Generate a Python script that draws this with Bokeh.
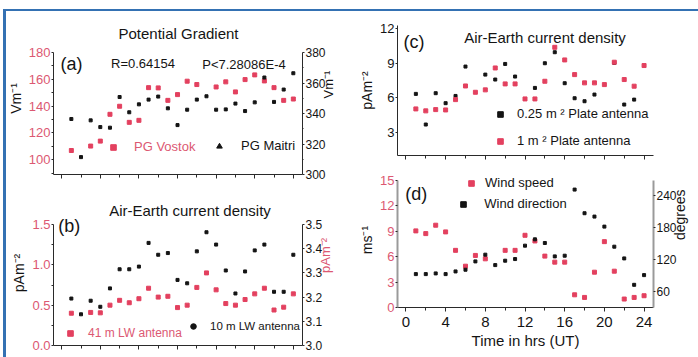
import math

from bokeh.embed import file_html
from bokeh.layouts import column, row
from bokeh.models import (FixedTicker, Label, Legend, LegendItem, LinearAxis,
                          NumeralTickFormatter, Range1d)
from bokeh.plotting import figure
from bokeh.resources import INLINE

FONT = "Liberation Sans"
RED = "#e3405f"
RED_TEXT = "#dc5872"
INK = "#141414"
AXIS = "#2a2a2a"
FRAME_BLUE = "#3471b3"

# ---------------------------------------------------------------- data
# (a) potential gradient, V/m
pg_vostok_hours = [1, 3, 4, 5, 6, 7, 8, 9, 10, 11, 12, 13, 14, 16, 17, 18, 19, 20, 21, 22, 23, 24]
pg_vostok = [106.9, 110.2, 113.9, 133.9, 139.9, 127.9, 129.4, 153.8, 153.6, 144.3, 148.6,
             158.6, 156.1, 154.3, 158.1, 150.6, 159.8, 163.3, 158.8, 153.8, 144.3, 145.3]
pg_maitri_hours = [1, 2, 3, 4, 5, 6, 7, 8, 9, 10, 11, 12, 13, 14, 15, 16, 17, 18, 19, 20, 21, 22, 23, 24]
pg_maitri = [336.4, 311.4, 335.5, 331.1, 330.7, 350.8, 340.8, 346.0, 349.1, 351.1, 343.4, 332.4,
             342.5, 349.1, 351.3, 342.5, 342.7, 346.5, 341.6, 347.3, 363.6, 347.6, 355.7, 366.4]

# (b) air-earth current density from the long-wire antennas, pA/m^2
lw41_hours = [1, 3, 4, 5, 6, 7, 8, 9, 10, 11, 12, 13, 14, 15, 16, 17, 18, 19, 20, 21, 22, 23, 24]
lw41 = [0.40, 0.41, 0.405, 0.50, 0.56, 0.53, 0.58, 0.71, 0.60, 0.61, 0.47, 0.50,
        0.72, 0.90, 0.69, 0.52, 0.50, 0.57, 0.64, 0.71, 0.44, 0.475, 0.64]
lw10_hours = [1, 2, 3, 4, 5, 6, 7, 8, 9, 10, 11, 12, 13, 14, 15, 16, 17, 18, 19, 20, 21, 22, 23, 24]
lw10 = [3.194, 3.129, 3.185, 3.160, 3.236, 3.315, 3.315, 3.326, 3.424, 3.375, 3.382, 3.271,
        3.257, 3.389, 3.468, 3.417, 3.310, 3.215, 3.306, 3.393, 3.417, 3.222, 3.222, 3.375]

# (c) air-earth current density from the plate antennas, pA/m^2
plate025_hours = [1, 2, 3, 4, 5, 6, 8, 9, 10, 11, 13, 14, 15, 16, 17, 18, 19, 21, 22, 23]
plate025 = [6.34, 3.67, 6.40, 5.53, 6.16, 8.72, 8.02, 7.59, 8.95, 7.85,
            6.86, 9.01, 9.97, 7.27, 5.96, 5.70, 6.28, 9.04, 5.41, 5.84]
plate1_hours = [1, 2, 3, 4, 5, 6, 7, 8, 9, 10, 11, 12, 13, 14, 15, 16, 17, 18, 19, 20, 21, 22, 23, 24]
plate1 = [5.03, 4.86, 4.97, 4.94, 5.84, 7.03, 6.48, 6.69, 8.60, 7.21, 7.21, 5.90,
          5.90, 7.44, 10.40, 9.30, 8.02, 7.30, 7.30, 7.15, 9.10, 7.59, 7.01, 8.81]

# (d) wind
wind_speed_hours = [1, 2, 3, 4, 5, 6, 7, 8, 10, 11, 12, 13, 14, 15, 16, 17, 18, 19, 20, 21, 22, 23, 24]
wind_speed = [9.05, 8.73, 9.72, 8.93, 6.75, 4.88, 6.15, 5.75, 6.75, 6.75, 8.53, 7.86,
              6.07, 5.36, 5.36, 1.50, 1.19, 4.17, 7.78, 4.29, 1.00, 1.19, 1.39]
wind_dir_hours = [1, 2, 3, 4, 5, 6, 7, 8, 9, 10, 11, 12, 13, 14, 15, 16, 17, 18, 19, 20, 21, 22, 23, 24]
wind_dir = [92.6, 92.6, 93.9, 92.6, 97.6, 100.8, 116.4, 129.0, 109.5, 117.7, 120.8, 145.9,
            157.8, 150.9, 125.8, 127.1, 251.0, 206.7, 200.4, 181.6, 144.0, 122.0, 72.5, 90.7]

hour_ticks = [0, 4, 8, 12, 16, 20, 24]
hour_minor = [2, 6, 10, 14, 18, 22]
X_SPAN = (-0.85, 24.95)


# ---------------------------------------------------------------- helpers
def headroom(lo, hi, axis_px, pad_px):
    """Upper range limit that leaves pad_px of empty frame above the axis end."""
    return hi + (hi - lo) * pad_px / axis_px


def style_axis(ax, tick_color=INK, title_color=INK, tick_size="13px", title_size="14px"):
    ax.axis_line_color = AXIS
    ax.major_tick_line_color = AXIS
    ax.minor_tick_line_color = AXIS
    ax.major_tick_in = 0
    ax.major_tick_out = 2
    ax.minor_tick_in = 0
    ax.minor_tick_out = 2
    ax.major_label_text_font = FONT
    ax.major_label_text_font_size = tick_size
    ax.major_label_text_color = tick_color
    ax.major_label_standoff = 1
    ax.axis_label_text_font = FONT
    ax.axis_label_text_font_size = title_size
    ax.axis_label_text_font_style = "normal"
    ax.axis_label_text_color = title_color
    ax.axis_label_standoff = 2


def make_panel(w, h, y_lo, y_hi, left, right, top, bottom, show_hours=False):
    p = figure(width=w, height=h, x_range=Range1d(*X_SPAN), y_range=Range1d(y_lo, y_hi),
               output_backend="svg", toolbar_location=None,
               min_border_left=left, min_border_right=right,
               min_border_top=top, min_border_bottom=bottom)
    p.outline_line_color = None
    p.xgrid.visible = False
    p.ygrid.visible = False
    p.background_fill_color = "white"
    p.border_fill_color = None
    xa = p.xaxis[0]
    xa.ticker = FixedTicker(ticks=hour_ticks, minor_ticks=hour_minor)
    style_axis(xa, tick_size="15px")
    xa.major_tick_out = 4
    xa.minor_tick_out = 3
    if not show_hours:
        # tick marks only, the hour numbers are printed under panel (d)
        xa.major_label_text_font_size = "1px"
        xa.major_label_text_color = None
        xa.major_label_standoff = 0
    return p


def add_right_axis(p, name, lo, hi, top, ticks, minor, title, tick_color=INK, title_color=INK,
                   title_size="13px"):
    p.extra_y_ranges[name] = Range1d(lo, top)
    ax = LinearAxis(y_range_name=name, ticker=FixedTicker(ticks=ticks, minor_ticks=minor),
                    axis_label=title, bounds=(lo, hi))
    style_axis(ax, tick_color=tick_color, title_color=title_color, tick_size="12px",
               title_size=title_size)
    ax.major_tick_out = 2
    ax.minor_tick_out = 1
    ax.major_label_standoff = 1
    ax.axis_label_standoff = 0
    if "axis_label_orientation" in ax.properties():
        ax.axis_label_orientation = math.pi / 2
    p.add_layout(ax, "right")
    return ax


def legend_style(font_size="13px", text_color=INK, spacing=0, standoff=10):
    return dict(glyph_width=14, glyph_height=14, label_height=14, label_width=10,
                padding=0, margin=0, spacing=spacing, label_standoff=standoff,
                border_line_color=None, background_fill_alpha=0,
                label_text_font=FONT, label_text_font_size=font_size,
                label_text_color=text_color)


def key_glyph(p, xs, ys, marker, size, color, **kw):
    # larger copy of a series used only for its legend swatch
    return p.scatter(xs, ys, marker=marker, size=size, color=color, visible=False, **kw)


def add_key(p, text, proxy, text_color, loc, standoff, font_size="13px"):
    leg = Legend(items=[LegendItem(label=text, renderers=[proxy])], location=loc,
                 **legend_style(font_size, text_color, 0, standoff))
    p.add_layout(leg)
    return leg


def add_text(p, text, sx, sy, size="13px", color=INK):
    p.add_layout(Label(x=sx, y=sy, x_units="screen", y_units="screen", text=text,
                       text_align="center", text_baseline="middle",
                       text_font=FONT, text_font_size=size, text_color=color))


# ---------------------------------------------------------------- (a)
pa = make_panel(350, 195, 89, headroom(89, 180, 122, 30), left=53, right=48, top=22, bottom=21)
ya = pa.yaxis[0]
ya.ticker = FixedTicker(ticks=[100, 120, 140, 160, 180], minor_ticks=[90, 110, 130, 150, 170])
ya.bounds = (89, 180)
style_axis(ya, tick_color=RED_TEXT)
ya.axis_label = "Vm⁻¹"
add_right_axis(pa, "maitri", 300, 380, headroom(300, 380, 122, 30),
               [300, 320, 340, 360, 380], [310, 330, 350, 370], "Vm⁻¹")
pa.scatter(pg_vostok_hours, pg_vostok, marker="square", size=4, color=RED)
pa.scatter(pg_maitri_hours, pg_maitri, marker="square", size=3, color=INK, y_range_name="maitri")
add_key(pa, "PG Vostok", key_glyph(pa, pg_vostok_hours, pg_vostok, "square", 7, RED),
        RED_TEXT, (53, 20), 14)
add_key(pa, "PG Maitri", key_glyph(pa, pg_maitri_hours, pg_maitri, "triangle", 9, INK,
                                   y_range_name="maitri"),
        INK, (159, 21), 15)
add_text(pa, "Potential Gradient", 125, 141, size="15px")
add_text(pa, "(a)", 18, 110.5, size="18px")
add_text(pa, "R=0.64154", 89.5, 111)
add_text(pa, "P<7.28086E-4", 190.5, 110.5)

# ---------------------------------------------------------------- (b)
pb = make_panel(350, 162, 0, headroom(0, 1.5, 121, 24), left=53, right=48, top=5, bottom=12)
yb = pb.yaxis[0]
yb.ticker = FixedTicker(ticks=[0, 0.5, 1.0, 1.5], minor_ticks=[0.25, 0.75, 1.25])
yb.formatter = NumeralTickFormatter(format="0.0")
yb.bounds = (0, 1.5)
style_axis(yb, tick_color=RED_TEXT)
yb.axis_label = "pAm⁻²"
rb = add_right_axis(pb, "lw10", 3.0, 3.5, headroom(3.0, 3.5, 121, 24),
                    [3.0, 3.1, 3.2, 3.3, 3.4, 3.5], [], "pAm⁻²", title_color=RED_TEXT)
rb.formatter = NumeralTickFormatter(format="0.0")
pb.scatter(lw41_hours, lw41, marker="square", size=4, color=RED)
pb.scatter(lw10_hours, lw10, marker="square", size=3, color=INK, y_range_name="lw10")
add_key(pb, "41 m LW antenna", key_glyph(pb, lw41_hours, lw41, "square", 5, RED),
        RED_TEXT, (10, 5), 11, font_size="12px")
add_key(pb, "10 m LW antenna", key_glyph(pb, lw10_hours, lw10, "circle", 6, INK,
                                         y_range_name="lw10"),
        INK, (133, 12), 10, font_size="11.5px")
add_text(pb, "Air-Earth current density", 136.5, 135.5, size="15px")
add_text(pb, "(b)", 15.7, 120, size="18px")

# ---------------------------------------------------------------- (c)
pc = make_panel(348, 165, 0.97, 12.3, left=46, right=43, top=25, bottom=10)
yc = pc.yaxis[0]
yc.ticker = FixedTicker(ticks=[3, 6, 9, 12])
style_axis(yc)
yc.axis_label = "pAm⁻²"
pc.scatter(plate025_hours, plate025, marker="square", size=3, color=INK)
pc.scatter(plate1_hours, plate1, marker="square", size=4, color=RED)
key_small = key_glyph(pc, plate025_hours, plate025, "square", 6, INK)
key_big = key_glyph(pc, plate1_hours, plate1, "square", 6, RED)
pc.add_layout(Legend(items=[LegendItem(label="0.25 m ² Plate antenna", renderers=[key_small]),
                            LegendItem(label="1 m ² Plate antenna", renderers=[key_big])],
                     location=(96, 7), **legend_style("13px", INK, 12, 10)))
add_text(pc, "Air-Earth current density", 147.5, 118.3, size="15px")
add_text(pc, "(c)", 16.5, 113.3, size="18px")

# ---------------------------------------------------------------- (d)
pd_ = make_panel(348, 192, 0, headroom(0, 15, 126.7, 8), left=47, right=43, top=7, bottom=50,
                 show_hours=True)
xd = pd_.xaxis[0]
xd.axis_label = "Time in hrs (UT)"
xd.axis_label_text_font_size = "15px"
xd.major_label_standoff = 5
xd.axis_label_standoff = 2
yd = pd_.yaxis[0]
yd.ticker = FixedTicker(ticks=[0, 3, 6, 9, 12, 15])
yd.bounds = (0, 15)
style_axis(yd, tick_color=RED_TEXT)
yd.axis_line_color = "#9a9a9a"
yd.axis_line_width = 2
yd.axis_label = "ms⁻¹"
rd = add_right_axis(pd_, "dir", 30, 268, headroom(30, 268, 126.7, 8),
                    [60, 120, 180, 240], [], "degrees", title_size="14px")
rd.axis_line_color = "#9a9a9a"
rd.axis_line_width = 2
pd_.scatter(wind_speed_hours, wind_speed, marker="square", size=4, color=RED)
pd_.scatter(wind_dir_hours, wind_dir, marker="square", size=3, color=INK, y_range_name="dir")
add_key(pd_, "Wind speed", key_glyph(pd_, wind_speed_hours, wind_speed, "square", 6, RED),
        INK, (67, 117), 7)
add_key(pd_, "Wind direction", key_glyph(pd_, wind_dir_hours, wind_dir, "square", 6, INK,
                                         y_range_name="dir"),
        INK, (59.3, 95.7), 14)
add_text(pd_, "(d)", 18.8, 114, size="18px")

page = row(column(pa, pb, spacing=0), column(pc, pd_, spacing=0), spacing=0,
           styles={"background": (f"linear-gradient({FRAME_BLUE}, {FRAME_BLUE}) 3px 9px / 3px 348px no-repeat, "
                                  f"linear-gradient({FRAME_BLUE}, {FRAME_BLUE}) 3px 9px / 695px 2px no-repeat, "
                                  "#ffffff")})

open("out.html", "w").write(file_html(page, INLINE))
